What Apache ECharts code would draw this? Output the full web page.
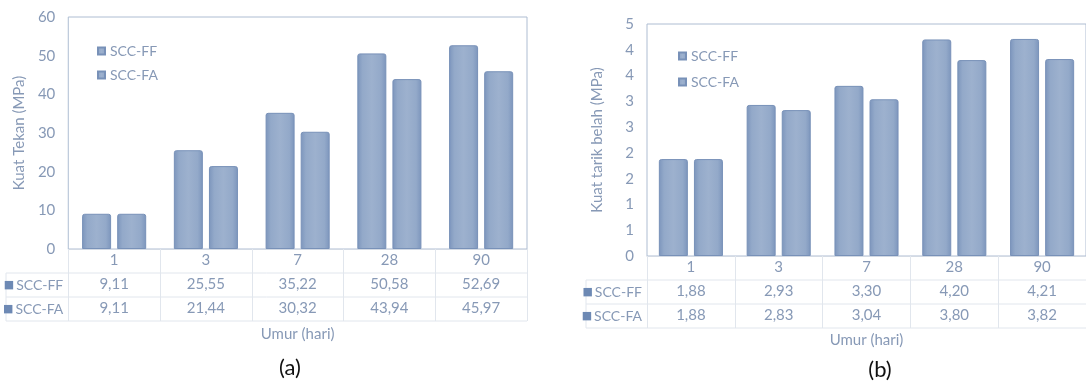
<!DOCTYPE html>
<html><head><meta charset="utf-8">
<script src="https://cdn.jsdelivr.net/npm/echarts@6/dist/echarts.min.js"></script>
<style>html,body{margin:0;padding:0;background:#fff}#c{width:1086px;height:385px}</style>
</head><body><div id="c"></div>
<script>
const categories = ['1', '3', '7', '28', '90'];
const seriesNames = ['SCC-FF', 'SCC-FA'];
const tekanFF = [9.11, 25.55, 35.22, 50.58, 52.69];
const tekanFA = [9.11, 21.44, 30.32, 43.94, 45.97];
const tarikFF = [1.88, 2.93, 3.30, 4.20, 4.21];
const tarikFA = [1.88, 2.83, 3.04, 3.80, 3.82];
const yTicksA = {min: 0, max: 60, interval: 10};
const yTicksB = {min: 0, max: 4.5, interval: 0.5};

const FONT = 'Lato';
const TXT = '#8799b6';
const GRIDLINE = '#e1e6ed';
const BORDER = '#aebdd2';
const fmt = v => v.toFixed(2).replace('.', ',');
const barColor = new echarts.graphic.LinearGradient(0, 0, 1, 0, [
  {offset: 0, color: '#7c95bc'}, {offset: 0.18, color: '#93a9c9'},
  {offset: 0.5, color: '#9db1ce'}, {offset: 0.82, color: '#93a9c9'},
  {offset: 1, color: '#7c95bc'}]);
const iconColor = '#6d89b4';

// layout constants
const A = {left: 68, top: 17, width: 459, height: 232, tableLeft: 6};
const B = {left: 647, top: 24, width: 445, height: 232, tableLeft: 586};
const ROW = 24;

function grids(g){ return {left: g.left, top: g.top, width: g.width, height: g.height,
  show: true, borderColor: BORDER, borderWidth: 1, backgroundColor: 'transparent'}; }

function rowName(n){
  return {name: '{i|■}{t|' + n + '}', nameLocation: 'start', nameGap: 5,
    nameTextStyle: {rich: {i: {color: iconColor, fontSize: 11, fontFamily: 'DejaVu Sans', lineHeight: 16},
      t: {color: TXT, fontSize: 14, fontFamily: FONT, padding: [0,0,0,2], lineHeight: 16}}}};
}

function xAxes(gi, valsFF, valsFA, nameGap){
  return [
    {gridIndex: gi, type: 'category', data: categories, position: 'bottom',
     axisLine: {show: true, lineStyle: {color: '#d3dae4'}},
     axisTick: {show: true, interval: 0, length: ROW * 3, lineStyle: {color: GRIDLINE}},
     axisLabel: {margin: 4, color: TXT, fontSize: 15, fontFamily: FONT},
     name: 'Umur (hari)', nameLocation: 'middle', nameGap: nameGap,
     nameTextStyle: {color: TXT, fontSize: 15, fontFamily: FONT}},
    Object.assign({gridIndex: gi, type: 'category', data: valsFF.map(fmt), position: 'bottom', offset: 36,
     axisLine: {show: false}, axisTick: {show: false},
     axisLabel: {margin: -8, color: TXT, fontSize: 15, fontFamily: FONT}}, rowName(seriesNames[0])),
    Object.assign({gridIndex: gi, type: 'category', data: valsFA.map(fmt), position: 'bottom', offset: 60,
     axisLine: {show: false}, axisTick: {show: false},
     axisLabel: {margin: -8, color: TXT, fontSize: 15, fontFamily: FONT}}, rowName(seriesNames[1]))
  ];
}

function yAxis(gi, t, name, fmtFn){
  return {gridIndex: gi, type: 'value', min: t.min, max: t.max, interval: t.interval,
    axisLine: {show: false}, axisTick: {show: false}, splitLine: {show: false},
    axisLabel: {margin: 13, color: TXT, fontSize: 15, fontFamily: FONT, formatter: fmtFn},
    name: name, nameLocation: 'middle', nameGap: 42, nameRotate: 90,
    nameTextStyle: {color: TXT, fontSize: 15, fontFamily: FONT}};
}

function bar(name, xi, yi, data){
  return {name: name, type: 'bar', xAxisIndex: xi, yAxisIndex: yi, data: data,
    barWidth: 29, barGap: '21%',
    itemStyle: {color: barColor, borderColor: '#7891b8', borderWidth: 1, borderRadius: [2,2,0,0]}};
}

function tableLines(g){
  const bottom = g.top + g.height, right = g.left + g.width, out = [];
  for (let k = 1; k <= 3; k++) {
    out.push({type: 'line', shape: {x1: g.tableLeft, y1: bottom + ROW*k, x2: right, y2: bottom + ROW*k},
      style: {stroke: GRIDLINE, lineWidth: 1}, silent: true});
  }
  out.push({type: 'line', shape: {x1: g.tableLeft, y1: bottom + ROW, x2: g.tableLeft, y2: bottom + ROW*3},
    style: {stroke: GRIDLINE, lineWidth: 1}, silent: true});
  return out;
}

const chart = echarts.init(document.getElementById('c'), null, {renderer: 'canvas'});
chart.setOption({
  animation: false,
  backgroundColor: '#ffffff',
  grid: [grids(A), grids(B)],
  xAxis: [...xAxes(0, tekanFF, tekanFA, 78), ...xAxes(1, tarikFF, tarikFA, 77)],
  yAxis: [yAxis(0, yTicksA, 'Kuat Tekan (MPa)', v => String(v)),
          yAxis(1, yTicksB, 'Kuat tarik belah (MPa)', v => String(Math.round(v)))],
  legend: [
    {left: 92, top: 39, orient: 'vertical', itemGap: 10, icon: 'rect', itemWidth: 7, itemHeight: 7,
     data: seriesNames, textStyle: {color: TXT, fontSize: 14, fontFamily: FONT}},
    {left: 673, top: 44, orient: 'vertical', itemGap: 12, icon: 'rect', itemWidth: 7, itemHeight: 7,
     data: seriesNames, textStyle: {color: TXT, fontSize: 14, fontFamily: FONT}}
  ],
  series: [
    bar(seriesNames[0], 0, 0, tekanFF), bar(seriesNames[1], 0, 0, tekanFA),
    bar(seriesNames[0], 3, 1, tarikFF), bar(seriesNames[1], 3, 1, tarikFA)
  ],
  graphic: [
    ...tableLines(A), ...tableLines(B),
    {type: 'text', x: 290, y: 368, style: {text: '(a)', font: '22px ' + FONT, fill: '#111', align: 'center', verticalAlign: 'middle'}},
    {type: 'text', x: 880, y: 370, style: {text: '(b)', font: '22px ' + FONT, fill: '#111', align: 'center', verticalAlign: 'middle'}}
  ]
});
</script></body></html>
